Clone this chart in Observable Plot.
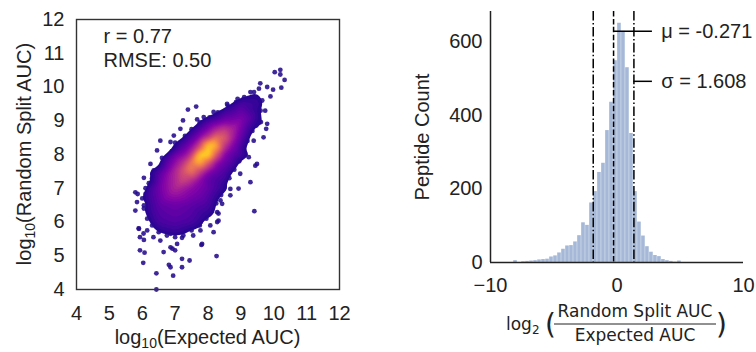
<!DOCTYPE html>
<html><head><meta charset="utf-8">
<script src="https://cdn.jsdelivr.net/npm/d3@7"></script>
<script src="https://cdn.jsdelivr.net/npm/@observablehq/plot@0.6"></script>
<style>
body{margin:0;background:#fff;width:756px;height:352px;overflow:hidden;position:relative;font-family:"Liberation Sans",Arial,sans-serif;}
#left{position:absolute;left:0;top:0;}
#right{position:absolute;left:400px;top:0;}
svg{overflow:visible;}
</style></head><body>
<div id="left"></div><div id="right"></div>
<script>
// ---------- Left panel: scatter (log10 Expected AUC vs log10 Random Split AUC) ----------
// individually visible (low-density) points
const sparseX = [6.43,6.43,6.94,6.81,7.21,7.44,8.26,6.03,5.93,6.07,6.65,6.92,7.06,7.80,5.93,6.05,5.90,6.15,6.55,6.86,7.21,7.55,7.77,8.28,9.41,5.79,5.84,6.05,5.79,5.86,6.10,6.25,6.05,6.45,6.25,6.45,6.65,6.86,6.96,7.16,7.39,7.64,7.24,7.67,7.87,8.17,8.58,8.90,9.29,9.59,9.80,9.90,10.03,10.20,10.20,10.33,10.23,9.98,9.74,9.61,9.77,9.69,9.47,9.44,9.24,9.29,8.98,8.68,8.38,8.28,8.98,8.78,
  6.30,6.50,6.60,6.90,7.00,7.30,7.50,7.75,8.05,8.30,8.60,8.85,9.10,9.40,9.55,9.65,9.60,9.50,9.35,9.20,9.10,8.95,8.80,8.65,8.50,8.40,8.25,8.10,7.95,7.75,7.50,7.25,7.00,6.75,6.50,6.30,6.15,6.05,6.00,6.10,6.20,
  5.89,6.04,6.34,6.55,6.86,7.00,7.21,6.86,7.82,8.17,7.77,8.32,8.43,8.93,8.07,8.32,6.55,6.35,9.80,9.39,9.49,8.68];
const sparseY = [4.00,4.48,4.41,4.73,4.66,4.86,4.99,4.79,5.16,5.09,5.11,5.21,5.35,5.32,5.55,5.47,5.80,5.75,5.75,5.65,5.53,5.60,5.75,6.00,6.32,6.34,6.59,6.49,6.88,6.83,6.83,7.03,7.31,7.53,7.72,8.12,7.82,8.37,8.56,8.76,9.33,9.42,9.01,9.04,9.11,9.26,9.50,9.65,9.85,10.11,10.00,9.72,10.44,10.51,10.37,10.21,9.98,9.92,9.30,8.96,8.76,8.51,8.86,7.67,7.92,7.18,7.43,6.98,6.64,6.29,8.22,8.78,
  7.30,7.60,7.90,8.10,8.35,8.55,8.75,8.95,9.10,9.25,9.45,9.55,9.70,9.85,9.95,9.60,9.30,9.00,8.70,8.40,8.10,7.80,7.55,7.30,7.05,6.80,6.55,6.30,6.10,5.90,5.75,5.60,5.55,5.60,5.70,5.90,6.10,6.40,6.70,7.00,7.15,
  5.81,5.66,5.55,5.45,5.25,5.16,4.91,4.66,5.35,5.70,5.99,6.25,6.54,6.99,5.90,6.04,8.41,7.53,8.91,8.41,7.72,6.79];

// outline of the dense body of points (edge of the colour-filled cloud)
const edgeX = [6.30,6.50,6.60,6.90,7.00,7.30,7.50,7.75,8.05,8.30,8.60,8.85,9.10,9.40,9.55,9.65,9.60,9.50,9.35,9.20,9.10,8.95,8.80,8.65,8.50,8.40,8.25,8.20,8.05,7.85,7.50,7.25,7.00,6.75,6.50,6.30,6.15,6.05,6.00,6.10,6.20];
const edgeY = [7.30,7.60,7.90,8.10,8.35,8.55,8.75,8.95,9.10,9.25,9.45,9.55,9.70,9.85,9.95,9.60,9.30,9.00,8.70,8.40,8.10,7.80,7.55,7.30,7.05,6.80,6.55,6.30,6.10,5.88,5.75,5.60,5.55,5.60,5.70,5.90,6.10,6.40,6.70,7.00,7.15];
const edgeLevel = 0.045;

// point-density colour level (0..1 of the plasma map) read on a 0.5 grid; null = covered by the finer grid
const coarseGridX = [5.5,6,6.5,7,7.5,8,8.5,9,9.5,10,10.5];
const coarseGridY = [10.5,10,9.5,9,8.5,8,7.5,7,6.5,6,5.5,5,4.5];
const coarseLevels = [
  [0,0,0,0,0,0,0,0,0,0,0],
  [0,0,0,0,0,0,0,0,0,0,0],
  [0,0,0,0,0,0,0,.14,.11,0,0],
  [0,0,0,0,0,.13,.24,.28,.07,0,0],
  [0,0,0,0,null,null,null,.20,0,0,0],
  [0,0,0,.22,null,null,null,.13,0,0,0],
  [0,0,.15,.40,null,null,null,0,0,0,0],
  [0,0,.22,.40,.30,.20,.07,0,0,0,0],
  [0,0,.18,.22,.18,.13,0,0,0,0,0],
  [0,0,.13,.16,.13,0,0,0,0,0,0],
  [0,0,0,0,0,0,0,0,0,0,0],
  [0,0,0,0,0,0,0,0,0,0,0],
  [0,0,0,0,0,0,0,0,0,0,0]
];
// finer 0.25 grid over the dense core
const fineGridX = [7.25,7.5,7.75,8,8.25,8.5,8.75];
const fineGridY = [8.75,8.5,8.25,8,7.75,7.5,7.25];
const fineLevels = [
  [0,.045,.15,.26,.40,.48,.40],
  [.05,.16,.30,.45,.68,.62,.38],
  [.16,.30,.52,.96,.86,.45,.27],
  [.28,.45,.96,1.0,.58,.28,.18],
  [.45,.70,.86,.58,.30,.20,.15],
  [.57,.70,.50,.30,.20,.15,.05],
  [.52,.44,.30,.18,.14,.12,0]
];
const scatterTicks = [4,5,6,7,8,9,10,11,12];
const statLines = ["r = 0.77", "RMSE: 0.50"];

// ---------- Right panel: histogram of log2(Random Split AUC / Expected AUC) ----------
const binStart = -8.18;
const binWidth = 0.316;
const binCounts = [5,0,2,3,4,5,7,8,9,15,18,26,36,45,46,56,73,108,101,162,193,245,270,359,436,549,651,629,530,351,193,110,72,43,28,19,16,8,5,3,1,4,0];
const mu = -0.271;
const sigma = 1.608;
const statLabels = ["μ = -0.271", "σ = 1.608"];
const histXTicks = [-10,0,10];
const histYTicks = [0,200,400,600];

const INK = "#222222";
const SANS = "'Liberation Sans', Arial, sans-serif";

// ----- build left -----
const sparse = sparseX.map((x,i)=>({x, y: sparseY[i]}));
const samples = [];
coarseGridY.forEach((y,i)=>coarseGridX.forEach((x,j)=>{const v=coarseLevels[i][j]; if(v!==null) samples.push({x,y,v});}));
fineGridY.forEach((y,i)=>fineGridX.forEach((x,j)=>samples.push({x,y,v:fineLevels[i][j]})));
edgeX.forEach((x,i)=>samples.push({x, y: edgeY[i], v: edgeLevel}));

const left = Plot.plot({
  width: 360, height: 352,
  marginLeft: 76, marginRight: 21, marginTop: 19, marginBottom: 63,
  x: {domain:[4,12]},
  y: {domain:[4,12]},
  color: {type:"linear", scheme:"plasma", domain:[0,1]},
  style: {fontFamily: SANS, color: INK, background: "white"},
  marks: [
    Plot.dot(sparse, {x:"x", y:"y", r:2.4, fill:"#240b8c", fillOpacity:0.88}),
    Plot.contour(samples, {x:"x", y:"y", fill:"v", interpolate:"barycentric", pixelSize:2, blur:0.5,
      thresholds: d3.range(0.05, 1.0, 0.025)}),
    Plot.frame({stroke:"#333", strokeWidth:1.4}),
    Plot.axisX({ticks: scatterTicks, tickSize:0, tickPadding:16, fontSize:20, fill:INK, label:null}),
    Plot.axisY({ticks: scatterTicks, tickSize:0, tickPadding:12, fontSize:20, fill:INK, label:null}),
    Plot.text([statLines.join("\n")], {text: d=>d, frameAnchor:"top-left", dx:27, dy:6, lineAnchor:"top",
      lineHeight:1.22, textAnchor:"start", fontSize:20, fill:INK})
  ]
});
document.getElementById("left").appendChild(left);
{
  const s = d3.select(left);
  const xl = s.append("text").attr("x",207.5).attr("y",344).attr("text-anchor","middle")
    .attr("fill",INK).attr("font-family",SANS).attr("font-size",20);
  xl.append("tspan").text("log");
  xl.append("tspan").attr("font-size",14).attr("dy",4).text("10");
  xl.append("tspan").attr("dy",-4).text("(Expected AUC)");
  const yl = s.append("text").attr("transform","translate(31,154) rotate(-90)").attr("text-anchor","middle")
    .attr("fill",INK).attr("font-family",SANS).attr("font-size",20);
  yl.append("tspan").text("log");
  yl.append("tspan").attr("font-size",14).attr("dy",4).text("10");
  yl.append("tspan").attr("dy",-4).text("(Random Split AUC)");
}

// ----- build right -----
const bins = binCounts.map((c,i)=>({x1: binStart + i*binWidth, x2: binStart + (i+1)*binWidth, count: c}));
const annX = 2.8;        // end of the annotation leader lines
const annY = [629, 493]; // heights of the two leader lines
const right = Plot.plot({
  width: 356, height: 352,
  marginLeft: 90, marginRight: 13, marginTop: 11, marginBottom: 90,
  x: {domain:[-10,10]},
  y: {domain:[0,683]},
  style: {fontFamily: SANS, color: INK, background: "white"},
  marks: [
    Plot.rectY(bins, {x1:"x1", x2:"x2", y:"count", fill:"#4c72b0", fillOpacity:0.5, insetLeft:0.2, insetRight:0.2}),
    Plot.ruleX([mu], {stroke:"black", strokeWidth:1.5, strokeDasharray:"5.5,2.4"}),
    Plot.ruleX([mu - sigma, mu + sigma], {stroke:"black", strokeWidth:1.5, strokeDasharray:"9.6,2.4,1.5,2.4"}),
    Plot.ruleY([{y:annY[0], x1:mu, x2:annX}, {y:annY[1], x1:mu+sigma, x2:annX}], {y:"y", x1:"x1", x2:"x2", stroke:"black", strokeWidth:1.5}),
    Plot.text(statLabels, {text:d=>d, x:3.5, y:(d,i)=>annY[i], textAnchor:"start", fontSize:20, fill:INK}),
    Plot.ruleX([-10], {stroke:INK, strokeWidth:1.5}),
    Plot.ruleY([0], {stroke:INK, strokeWidth:1.5}),
    Plot.axisX({ticks: histXTicks, tickSize:0, tickPadding:15, fontSize:20, fill:INK, label:null}),
    Plot.axisY({ticks: histYTicks, tickSize:0, tickPadding:8, fontSize:20, fill:INK, label:null})
  ]
});
document.getElementById("right").appendChild(right);
{
  const s = d3.select(right);
  s.append("text").attr("transform","translate(29,137) rotate(-90)").attr("text-anchor","middle")
    .attr("fill",INK).attr("font-family",SANS).attr("font-size",20).text("Peptide Count");
  const DV = "'DejaVu Sans', sans-serif";
  const t = (x,y,size,str,anchor) => s.append("text").attr("x",x).attr("y",y).attr("text-anchor",anchor||"start")
    .attr("font-family",DV).attr("font-size",size).attr("fill",INK).text(str);
  t(106,330,17,"log");
  t(132,334,12,"2");
  t(145,334,28,"(");
  t(235,317,17,"Random Split AUC","middle");
  s.append("line").attr("x1",154).attr("x2",316).attr("y1",324).attr("y2",324).attr("stroke",INK).attr("stroke-width",1);
  t(235,341,17,"Expected AUC","middle");
  t(316,334,28,")");
}
</script>
</body></html>
